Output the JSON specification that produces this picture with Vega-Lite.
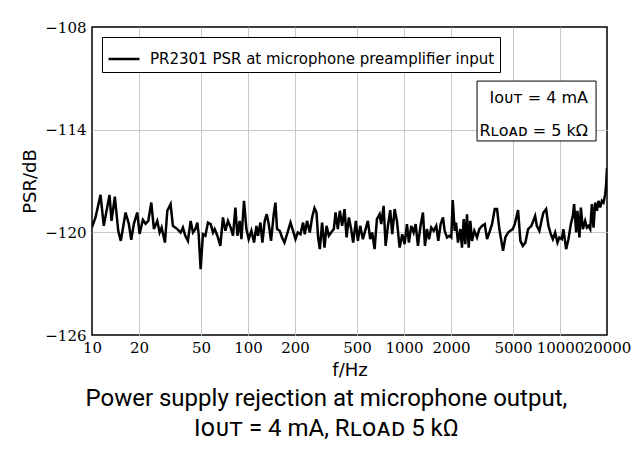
{
  "$schema": "https://vega.github.io/schema/vega-lite/v6.json",
  "autosize": {"type": "none"},
  "padding": {"left": 92, "top": 27, "right": 36, "bottom": 115},
  "width": 515,
  "height": 308,
  "background": "white",
  "config": {
    "view": {"stroke": "black", "strokeWidth": 1.5},
    "axis": {"titleFontWeight": "normal", "labelColor": "black", "titleColor": "black"}
  },
  "title": {
    "text": ["Power supply rejection at microphone output,", "Iᴏᴜᴛ = 4 mA, Rʟᴏᴀᴅ 5 kΩ"],
    "orient": "bottom",
    "anchor": "middle",
    "frame": "bounds",
    "baseline": "top",
    "font": "Roboto, 'DejaVu Sans', sans-serif",
    "fontSize": 24,
    "fontWeight": "normal",
    "color": "black",
    "lineHeight": 30,
    "offset": 8
  },
  "datasets": {
    "psr": [
      {"f":10,"db":-119.7},{"f":10.53,"db":-119.13},{"f":11.34,"db":-117.81},{"f":11.9,"db":-119.62},{"f":12.95,"db":-117.81},{"f":13.34,"db":-119.33},{"f":14.01,"db":-117.92},{"f":14.73,"db":-119.91},{"f":15.3,"db":-120.5},{"f":16.41,"db":-118.84},{"f":17.22,"db":-119.5},{"f":17.85,"db":-120.44},{"f":18.55,"db":-119.5},{"f":19.5,"db":-118.84},{"f":20.18,"db":-120.09},{"f":21.19,"db":-119.27},{"f":22.05,"db":-119.5},{"f":22.95,"db":-119.33},{"f":23.99,"db":-118.26},{"f":24.93,"db":-119.8},{"f":26.21,"db":-119.33},{"f":27.13,"db":-120.01},{"f":27.94,"db":-119.72},{"f":29.34,"db":-120.6},{"f":30.39,"db":-118.74},{"f":31.9,"db":-118.35},{"f":33,"db":-119.62},{"f":35.23,"db":-119.81},{"f":36.98,"db":-120.01},{"f":38.26,"db":-119.72},{"f":39.64,"db":-120.2},{"f":41.2,"db":-120.5},{"f":42.88,"db":-119.33},{"f":44.36,"db":-120.01},{"f":45.96,"db":-119.81},{"f":47.34,"db":-119.43},{"f":48.26,"db":-120.11},{"f":49.7,"db":-122.15},{"f":51.43,"db":-120.11},{"f":53.29,"db":-120.2},{"f":55.38,"db":-119.43},{"f":57.64,"db":-119.52},{"f":59.63,"db":-120.01},{"f":61.15,"db":-119.81},{"f":63.62,"db":-120.2},{"f":66.5,"db":-120.79},{"f":69.1,"db":-119.13},{"f":71.6,"db":-119.91},{"f":74.4,"db":-119.33},{"f":77.45,"db":-119.72},{"f":80.12,"db":-120.2},{"f":83.01,"db":-118.55},{"f":85.51,"db":-120.2},{"f":88.46,"db":-119.33},{"f":90.71,"db":-120.4},{"f":94.26,"db":-118.16},{"f":97.66,"db":-119.81},{"f":101,"db":-120.4},{"f":105.1,"db":-119.91},{"f":109.3,"db":-120.6},{"f":113.2,"db":-119.62},{"f":115.9,"db":-120.2},{"f":120.1,"db":-119.43},{"f":123.7,"db":-120.6},{"f":128,"db":-119.33},{"f":131.8,"db":-118.94},{"f":135.8,"db":-119.52},{"f":140.5,"db":-120.5},{"f":146.2,"db":-118.94},{"f":149.9,"db":-118.26},{"f":153.5,"db":-119.81},{"f":159.8,"db":-119.91},{"f":165.3,"db":-120.3},{"f":171.2,"db":-120.6},{"f":178,"db":-120.11},{"f":187.2,"db":-119.43},{"f":194.5,"db":-119.91},{"f":201.5,"db":-120.4},{"f":208.4,"db":-120.01},{"f":216.9,"db":-120.11},{"f":225.4,"db":-119.43},{"f":231.1,"db":-120.11},{"f":239.1,"db":-119.33},{"f":248.9,"db":-120.01},{"f":257.5,"db":-119.13},{"f":266.8,"db":-118.58},{"f":274.8,"db":-118.84},{"f":281.4,"db":-120.3},{"f":288.6,"db":-120.98},{"f":298.5,"db":-119.43},{"f":309.3,"db":-120.89},{"f":318.6,"db":-119.62},{"f":329.6,"db":-120.2},{"f":341,"db":-120.01},{"f":354.9,"db":-119.81},{"f":363.9,"db":-118.84},{"f":376.5,"db":-119.81},{"f":387.8,"db":-118.74},{"f":401.2,"db":-119.62},{"f":415.7,"db":-118.64},{"f":428.2,"db":-120.3},{"f":443,"db":-119.13},{"f":458.3,"db":-119.81},{"f":472,"db":-120.6},{"f":491.3,"db":-119.33},{"f":506.1,"db":-120.5},{"f":523.6,"db":-119.62},{"f":544.9,"db":-120.4},{"f":567,"db":-119.81},{"f":586.7,"db":-119.33},{"f":607,"db":-120.4},{"f":625.2,"db":-120.01},{"f":647.7,"db":-120.98},{"f":670.2,"db":-119.23},{"f":697.4,"db":-118.94},{"f":714.1,"db":-119.52},{"f":739.9,"db":-118.45},{"f":762.1,"db":-120.79},{"f":788.5,"db":-119.62},{"f":815.7,"db":-118.7},{"f":840.3,"db":-120.11},{"f":870.6,"db":-118.64},{"f":900.6,"db":-119.33},{"f":937.1,"db":-120.89},{"f":973.9,"db":-120.11},{"f":1009,"db":-120.69},{"f":1044,"db":-119.52},{"f":1075,"db":-120.6},{"f":1112,"db":-119.62},{"f":1152,"db":-120.01},{"f":1187,"db":-119.52},{"f":1228,"db":-120.79},{"f":1271,"db":-119.72},{"f":1322,"db":-118.84},{"f":1362,"db":-120.79},{"f":1403,"db":-119.81},{"f":1445,"db":-120.4},{"f":1495,"db":-119.72},{"f":1549,"db":-119.91},{"f":1609,"db":-119.62},{"f":1658,"db":-120.5},{"f":1717,"db":-119.52},{"f":1777,"db":-119.13},{"f":1822,"db":-119.91},{"f":1886,"db":-120.3},{"f":1951,"db":-120.2},{"f":2009,"db":-120.3},{"f":2051,"db":-118.12},{"f":2113,"db":-119.91},{"f":2154,"db":-119.43},{"f":2218,"db":-120.6},{"f":2295,"db":-119.81},{"f":2353,"db":-120.89},{"f":2413,"db":-119.23},{"f":2471,"db":-120.69},{"f":2533,"db":-118.94},{"f":2598,"db":-120.89},{"f":2660,"db":-119.33},{"f":2728,"db":-120.5},{"f":2822,"db":-119.91},{"f":2937,"db":-120.3},{"f":3039,"db":-119.81},{"f":3162,"db":-119.62},{"f":3291,"db":-119.52},{"f":3405,"db":-120.4},{"f":3523,"db":-120.01},{"f":3666,"db":-119.52},{"f":3815,"db":-118.64},{"f":3947,"db":-118.64},{"f":4083,"db":-119.81},{"f":4206,"db":-120.5},{"f":4313,"db":-121.08},{"f":4462,"db":-120.3},{"f":4644,"db":-120.01},{"f":4804,"db":-119.91},{"f":4977,"db":-119.81},{"f":5127,"db":-119.52},{"f":5383,"db":-118.7},{"f":5569,"db":-120.5},{"f":5770,"db":-120.79},{"f":5997,"db":-120.6},{"f":6242,"db":-119.81},{"f":6553,"db":-119.62},{"f":6922,"db":-119.04},{"f":7098,"db":-119.62},{"f":7376,"db":-119.91},{"f":7642,"db":-119.23},{"f":7826,"db":-118.84},{"f":8144,"db":-118.64},{"f":8425,"db":-119.62},{"f":8730,"db":-120.11},{"f":8993,"db":-120.4},{"f":9303,"db":-120.01},{"f":9625,"db":-120.6},{"f":9911,"db":-120.3},{"f":10270,"db":-120.4},{"f":10510,"db":-119.81},{"f":10940,"db":-120.98},{"f":11320,"db":-120.4},{"f":11730,"db":-119.52},{"f":12080,"db":-119.04},{"f":12310,"db":-118.35},{"f":12690,"db":-120.01},{"f":12930,"db":-118.74},{"f":13320,"db":-120.3},{"f":13600,"db":-118.55},{"f":14010,"db":-119.81},{"f":14490,"db":-119.33},{"f":14860,"db":-119.72},{"f":15220,"db":-119.62},{"f":15610,"db":-119.81},{"f":16000,"db":-118.35},{"f":16390,"db":-119.72},{"f":16800,"db":-118.26},{"f":17230,"db":-118.74},{"f":17640,"db":-118.16},{"f":18090,"db":-118.55},{"f":18550,"db":-118.16},{"f":18990,"db":-118.26},{"f":19480,"db":-117.77},{"f":19750,"db":-117.18},{"f":20000,"db":-116.25}
    ],
    "box": [{"f": 2938, "f2": 17020, "db": -111.16, "db2": -114.66}],
    "note": [
      {"f": 15100, "db": -112.15, "label": "Iᴏᴜᴛ = 4 mA"},
      {"f": 15100, "db": -114.1, "label": "Rʟᴏᴀᴅ = 5 kΩ"}
    ]
  },
  "layer": [
    {
      "data": {"name": "psr"},
      "mark": {"type": "line", "strokeWidth": 2.5, "clip": true},
      "encoding": {
        "x": {
          "field": "f", "type": "quantitative", "title": "f/Hz",
          "scale": {"type": "log", "domain": [10, 20000], "nice": false},
          "axis": {
            "values": [10, 20, 50, 100, 200, 500, 1000, 2000, 5000, 10000, 20000],
            "format": "d",
            "labelFont": "DejaVu Serif", "labelFontSize": 15,
            "labelOverlap": false, "labelFlush": false, "labelBound": false,
            "labelPadding": 5,
            "ticks": false, "domain": false,
            "grid": true,
            "gridColor": {"condition": {"test": "datum.value == 10 || datum.value == 20000", "value": "transparent"}, "value": "#c8c8c8"},
            "gridWidth": 1,
            "titleFont": "DejaVu Sans", "titleFontSize": 18, "titlePadding": 6
          }
        },
        "y": {
          "field": "db", "type": "quantitative", "title": "PSR/dB",
          "scale": {"domain": [-126, -108], "nice": false, "zero": false},
          "axis": {
            "values": [-126, -120, -114, -108],
            "labelFont": "DejaVu Serif", "labelFontSize": 15,
            "labelPadding": 6,
            "ticks": false, "domain": false,
            "grid": true,
            "gridColor": {"condition": {"test": "datum.value == -126 || datum.value == -108", "value": "transparent"}, "value": "#c8c8c8"},
            "gridWidth": 1,
            "titleFont": "DejaVu Sans", "titleFontSize": 18, "titlePadding": 5
          }
        },
        "color": {
          "datum": "PR2301 PSR at microphone preamplifier input",
          "scale": {"range": ["black"]},
          "legend": {
            "title": null,
            "orient": "top-left",
            "offset": 10,
            "padding": 5,
            "strokeColor": "black",
            "fillColor": "white",
            "cornerRadius": 0,
            "symbolType": "stroke",
            "symbolStrokeWidth": 2.5,
            "symbolSize": 961,
            "labelOffset": 9,
            "labelFont": "DejaVu Sans",
            "labelFontSize": 15,
            "labelColor": "black",
            "labelLimit": 500
          }
        }
      }
    },
    {
      "data": {"name": "box"},
      "mark": {"type": "rect", "fill": "white", "stroke": "black", "strokeWidth": 1},
      "encoding": {
        "x": {"field": "f", "type": "quantitative", "title": "f/Hz"},
        "x2": {"field": "f2"},
        "y": {"field": "db", "type": "quantitative", "title": "PSR/dB"},
        "y2": {"field": "db2"}
      }
    },
    {
      "data": {"name": "note"},
      "mark": {"type": "text", "align": "right", "baseline": "middle", "font": "DejaVu Sans", "fontSize": 16, "color": "black"},
      "encoding": {
        "x": {"field": "f", "type": "quantitative", "title": "f/Hz"},
        "y": {"field": "db", "type": "quantitative", "title": "PSR/dB"},
        "text": {"field": "label"}
      }
    }
  ]
}
